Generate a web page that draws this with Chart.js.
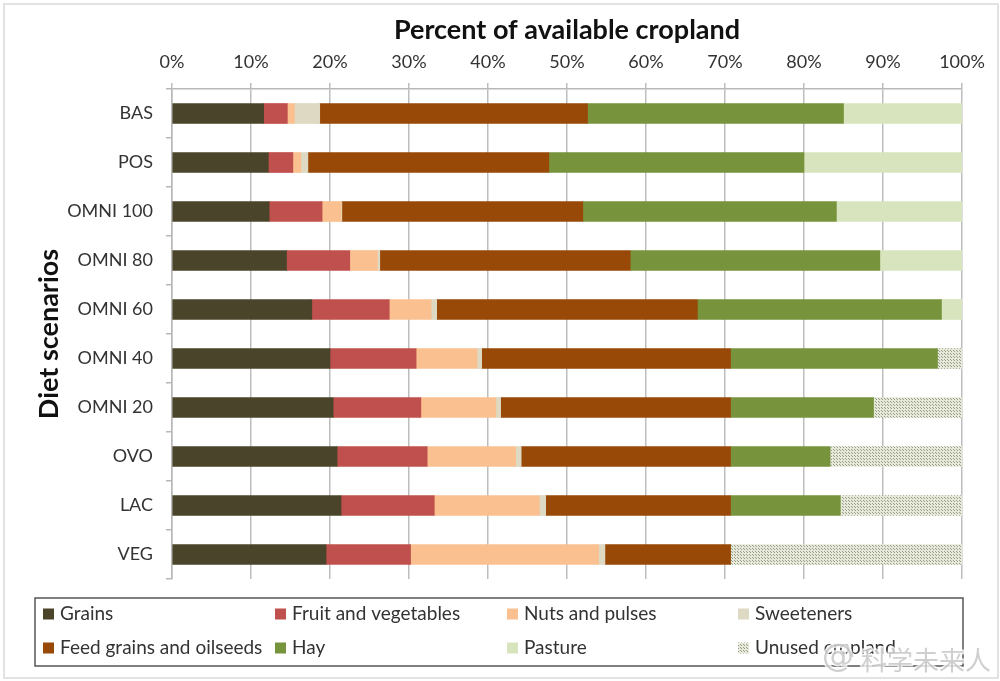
<!DOCTYPE html>
<html>
<head>
<meta charset="utf-8">
<title>Percent of available cropland</title>
<script src="https://cdn.jsdelivr.net/npm/chart.js@4"></script>
<style>
  html, body { margin: 0; padding: 0; background: #fff; }
  #wrap { position: relative; width: 1000px; height: 681px; }
  #wrap::after { content: ''; position: absolute; left: 3px; top: 3px; width: 992px; height: 672px; border: 2px solid #e2e2e2; }
  canvas { display: block; }
</style>
</head>
<body>
<div id="wrap"><canvas id="chart" width="1000" height="681"></canvas></div>
<script>
const categories = ['BAS', 'POS', 'OMNI 100', 'OMNI 80', 'OMNI 60', 'OMNI 40', 'OMNI 20', 'OVO', 'LAC', 'VEG'];

const grains = [11.6, 12.2, 12.3, 14.5, 17.7, 20, 20.4, 20.9, 21.4, 19.5];
const fruitVeg = [3, 3.1, 6.7, 8, 9.8, 10.9, 11.1, 11.4, 11.8, 10.7];
const nutsPulses = [0.9, 1, 2.4, 3.5, 5.3, 7.7, 9.5, 11.2, 13.3, 23.8];
const sweeteners = [3.2, 0.9, 0.1, 0.3, 0.7, 0.6, 0.6, 0.7, 0.8, 0.8];
const feedGrains = [33.9, 30.5, 30.5, 31.7, 33, 31.5, 29.1, 26.5, 23.4, 15.9];
const hay = [32.4, 32.3, 32.1, 31.6, 30.9, 26.2, 18.1, 12.6, 13.9, 0];
const pasture = [15, 20, 15.9, 10.4, 2.6, 0, 0, 0, 0, 0];
const unused = [0, 0, 0, 0, 0, 3.1, 11.2, 16.7, 15.4, 29.3];

const FONT = 'Lato, "Open Sans", sans-serif';
const TEXT = '#333';

// dotted fill for the unused cropland series
const makeDots = () => {
  const tile = document.createElement('canvas');
  tile.width = 3;
  tile.height = 3;
  const c = tile.getContext('2d');
  c.fillStyle = '#e6e8da';
  c.fillRect(0, 0, 3, 3);
  c.fillStyle = '#9a9f8a';
  c.fillRect(0, 0, 1, 1);
  c.fillRect(2, 2, 1, 1);
  return c.createPattern(tile, 'repeat');
};

const dots = makeDots();

const series = (label, data, backgroundColor) => ({ label, data, backgroundColor, barThickness: 20, borderWidth: 0 });

// legend sits in a framed box under the plot, 4 columns by 2 rows
const boxLegend = {
  id: 'boxLegend',
  afterDraw(chart) {
    const { ctx } = chart;
    const columns = [43, 275, 507, 738];
    const rows = [614, 648];
    ctx.save();
    ctx.strokeStyle = '#555';
    ctx.lineWidth = 1.5;
    ctx.strokeRect(35, 598, 928, 68);
    ctx.font = '19px ' + FONT;
    ctx.textBaseline = 'middle';
    chart.data.datasets.forEach((ds, i) => {
      const x = columns[i % 4];
      const y = rows[Math.floor(i / 4)];
      ctx.fillStyle = ds.backgroundColor;
      ctx.fillRect(x, y - 5.5, 11, 11);
      ctx.fillStyle = TEXT;
      ctx.fillText(ds.label, x + 17, y);
    });
    // watermark over the corner of the legend
    ctx.fillStyle = 'rgba(175,175,175,0.6)';
    ctx.strokeStyle = 'rgba(255,255,255,0.8)';
    ctx.lineWidth = 3;
    ctx.font = '32px "DejaVu Sans"';
    ctx.strokeText('@', 822, 658);
    ctx.fillText('@', 822, 658);
    ctx.font = '26px "Noto Sans CJK SC"';
    ctx.strokeText('科学未来人', 861, 660);
    ctx.fillText('科学未来人', 861, 660);
    ctx.restore();
  },
};

new Chart(document.getElementById('chart'), {
  type: 'bar',
  data: {
    labels: categories,
    datasets: [
      series('Grains', grains, '#4a452a'),
      series('Fruit and vegetables', fruitVeg, '#c0504d'),
      series('Nuts and pulses', nutsPulses, '#fac090'),
      series('Sweeteners', sweeteners, '#ddd9c3'),
      series('Feed grains and oilseeds', feedGrains, '#984807'),
      series('Hay', hay, '#77933c'),
      series('Pasture', pasture, '#d7e4bd'),
      series('Unused cropland', unused, dots),
    ],
  },
  plugins: [boxLegend],
  options: {
    indexAxis: 'y',
    responsive: false,
    animation: false,
    layout: { padding: { left: 0, top: 0, right: 38, bottom: 102 } },
    plugins: { legend: { display: false }, title: { display: false }, tooltip: { enabled: false } },
    scales: {
      x: {
        position: 'top',
        stacked: true,
        min: 0,
        max: 100,
        afterFit: (scale) => { scale.height = 89; },
        title: {
          display: true,
          text: 'Percent of available cropland',
          color: '#111',
          font: { family: FONT, size: 27, weight: 'bold' },
          padding: { top: 14, bottom: 0 },
        },
        ticks: {
          stepSize: 10,
          maxRotation: 0,
          color: TEXT,
          padding: 10,
          font: { family: FONT, size: 18 },
          callback: (v) => v + '%',
        },
        border: { color: '#b8b8b8', width: 1.5 },
        grid: { color: '#bdbdbd', lineWidth: 1.5, tickLength: 6 },
      },
      y: {
        stacked: true,
        afterFit: (scale) => { scale.width = 172; },
        title: {
          display: true,
          text: 'Diet scenarios',
          color: '#111',
          font: { family: FONT, size: 27, weight: 'bold' },
          padding: { top: 33, bottom: 0 },
        },
        ticks: {
          color: TEXT,
          padding: 13,
          font: { family: FONT, size: 18 },
        },
        border: { color: '#b8b8b8', width: 1.5 },
        grid: { drawOnChartArea: false, color: '#b8b8b8', lineWidth: 1.5, tickLength: 6 },
      },
    },
  },
});
</script>
</body>
</html>
